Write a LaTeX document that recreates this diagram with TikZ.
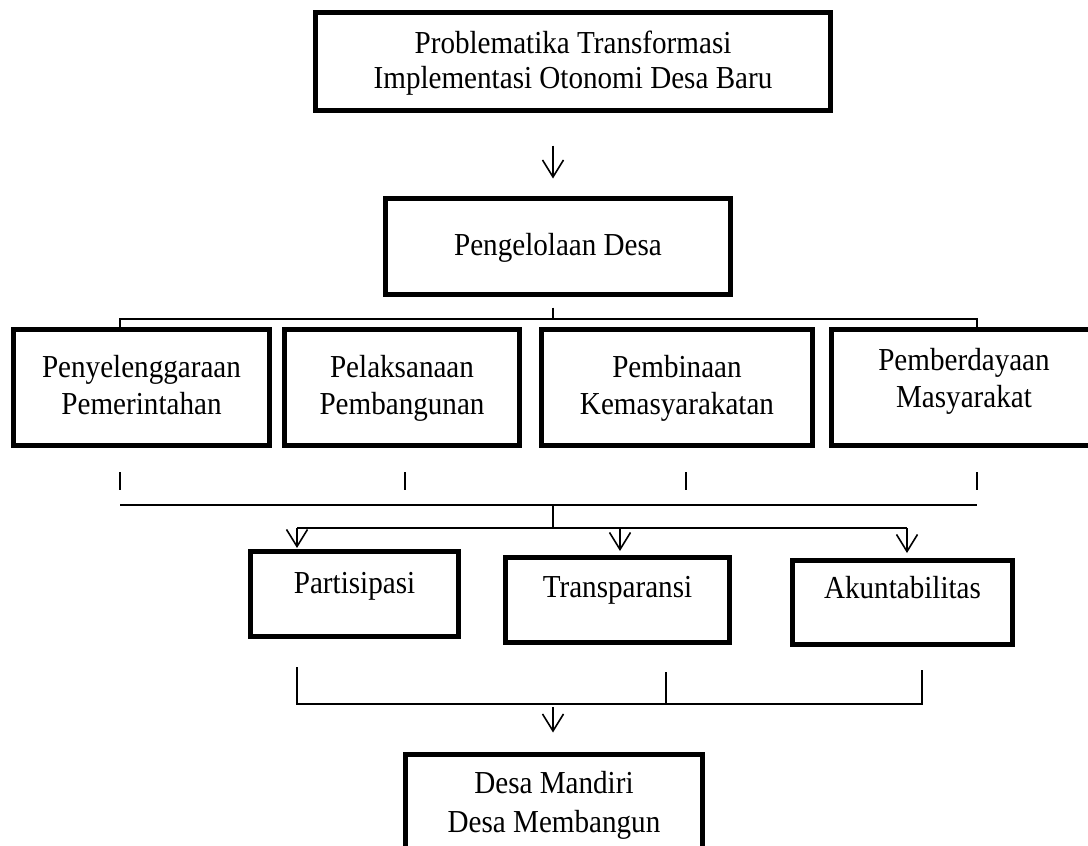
\documentclass[tikz,border=0pt]{standalone}
\usepackage{fontspec}
\setmainfont{Liberation Serif}[FakeStretch=0.91]
\usetikzlibrary{arrows.meta,calc}
\begin{document}
\begin{tikzpicture}[x=1pt,y=-1pt,
  box/.style={draw, line width=5pt, rectangle, inner sep=0pt},
  txt/.style={align=center, font=\fontsize{32}{37}\selectfont, inner sep=0pt},
  conn/.style={line width=1.6pt},
  arr/.style={conn, -{Straight Barb[length=17pt,width=21pt]}}]
\useasboundingbox (0,0) rectangle (1088,846);
\coordinate (spine) at (553,0);

% boxes
\node[box, minimum width=515pt, minimum height=98pt,
  label={[txt, yshift=-1.5pt, font=\fontsize{32}{35}\selectfont]center:{Problematika Transformasi\\Implementasi Otonomi Desa Baru}}] (top) at (573,61.5) {};
\node[box, minimum width=345pt, minimum height=96pt,
  label={[txt, yshift=-1pt]center:{Pengelolaan Desa}}] (peng) at (558,246.5) {};

\node[box, minimum width=256pt, minimum height=116pt,
  label={[txt, yshift=2.5pt]center:{Penyelenggaraan\\Pemerintahan}}] (a) at (141.5,387.5) {};
\node[box, minimum width=235pt, minimum height=116pt,
  label={[txt, yshift=-1pt]center:{Pelaksanaan\\Pembangunan}}] (b) at (402,387.5) {};
\node[box, minimum width=271pt, minimum height=116pt,
  label={[txt, yshift=-1pt]center:{Pembinaan\\Kemasyarakatan}}] (c) at (677,387.5) {};
\node[box, minimum width=265pt, minimum height=116pt,
  label={[txt, yshift=6pt, xshift=0pt]center:{Pemberdayaan\\Masyarakat}}] (d) at (964,387.5) {};

\node[box, minimum width=208pt, minimum height=85pt,
  label={[txt, yshift=8pt]center:{Partisipasi}}] (part) at (354.5,594) {};
\node[box, minimum width=224pt, minimum height=85pt,
  label={[txt, yshift=10pt]center:{Transparansi}}] (trans) at (617.5,600) {};
\node[box, minimum width=220pt, minimum height=84pt,
  label={[txt, yshift=14.5pt]center:{Akuntabilitas}}] (akun) at (902.5,602.5) {};

\node[box, minimum width=297pt, minimum height=113pt,
  label={[txt, yshift=6pt, font=\fontsize{32}{39}\selectfont]center:{Desa Mandiri\\Desa Membangun}}] (bot) at (554,811) {};

% top arrow
\draw[arr, shorten <=32.5pt, shorten >=17.5pt] (top.south -| spine) -- (peng.north -| spine);

% first tree
\coordinate (j1) at (553,319);
\coordinate (h1l) at (120,319);
\coordinate (h1r) at (977,319);
\draw[conn, shorten <=10.5pt] (peng.south -| spine) -- (j1);
\draw[conn] (h1l |- a.north) -- (h1l) -- (h1r) -- (h1r |- d.north);

% ticks
\coordinate (tk1) at (120,472);
\coordinate (tk2) at (405,472);
\coordinate (tk3) at (686,472);
\coordinate (tk4) at (977,472);
\draw[conn] (tk1) -- ++(0,18);
\draw[conn] (tk2) -- ++(0,18);
\draw[conn] (tk3) -- ++(0,18);
\draw[conn] (tk4) -- ++(0,18);

% second tree
\coordinate (h2l) at (120,505);
\coordinate (h2r) at (977,505);
\coordinate (j2) at (553,505);
\coordinate (h3l) at (297,528);
\coordinate (h3m) at (620,528);
\coordinate (h3r) at (907,528);
\draw[conn] (h2l) -- (h2r);
\draw[conn] (j2) -- (j2 |- h3l);
\draw[conn] (h3l) -- (h3r);
\draw[arr, shorten >=1pt] (h3l) -- (h3l |- part.north);
\draw[arr, shorten >=4pt] (h3m) -- (h3m |- trans.north);
\draw[arr, shorten >=5pt] (h3r) -- (h3r |- akun.north);

% lower bracket
\coordinate (b1t) at (297,667);
\coordinate (b2t) at (666,672);
\coordinate (b3t) at (922,670);
\coordinate (bl) at (297,704);
\coordinate (br) at (922,704);
\draw[conn] (b1t) -- (bl) -- (br) -- (b3t);
\draw[conn] (b2t) -- (b2t |- bl);
\draw[arr, shorten <=3pt, shorten >=19.5pt] (bl -| spine) -- (bot.north -| spine);
\end{tikzpicture}
\end{document}
